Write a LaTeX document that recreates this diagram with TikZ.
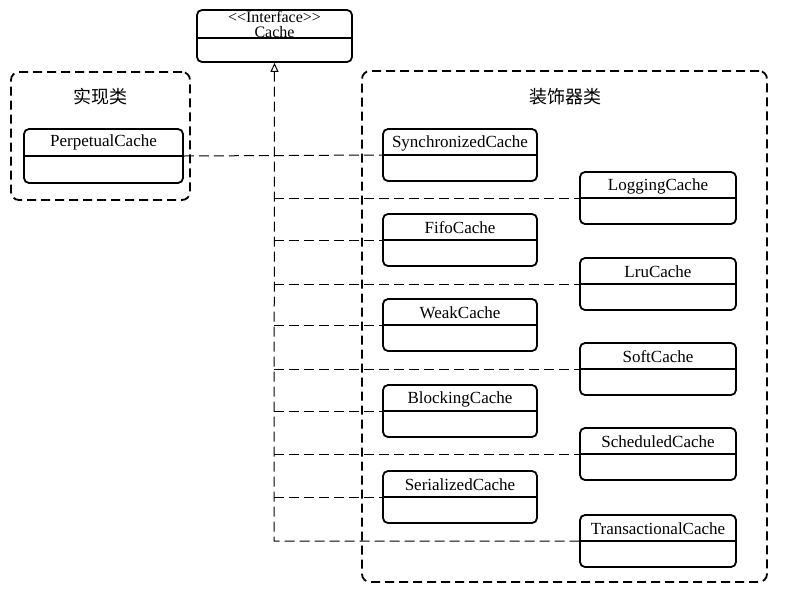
\documentclass[tikz,border=0pt]{standalone}
\usepackage{fontspec}
\setmainfont{Liberation Serif}
\newfontfamily\cjk{Noto Sans CJK SC}
\usetikzlibrary{arrows.meta,calc}
\begin{document}
\begin{tikzpicture}[x=1pt,y=-1pt,
  clsbox/.style={draw,line width=1.8pt,rounded corners=5pt,minimum height=52pt,inner sep=0pt},
  lcol/.style={clsbox,minimum width=154pt},
  rcol/.style={clsbox,minimum width=156pt},
  grp/.style={draw,line width=1.8pt,rounded corners=8pt,dash pattern=on 9pt off 5pt,inner sep=0pt},
  conn/.style={line width=1pt,dash pattern=on 10pt off 5pt},
  lbl/.style={font=\fontsize{17}{17}\selectfont,inner sep=0pt},
  ttl/.style={font=\cjk\fontsize{18}{18}\selectfont,inner sep=0pt}]
\path[fill=white,use as bounding box] (0,0) rectangle (785,590);
% groups
\node[grp,minimum width=179pt,minimum height=128pt] (gimpl) at (100.5,136) {};
\node[ttl] (timpl) at (100,97) {实现类};
\node[grp,minimum width=405pt,minimum height=511pt] (gdec) at (564.5,326.5) {};
\node[ttl] (tdec) at (565,97) {装饰器类};
% interface
\node[clsbox,minimum width=155pt,minimum height=52pt] (iface) at (274.5,36) {};
\draw[line width=1.8pt] ($(iface.west)+(0,2)$) -- ($(iface.east)+(0,2)$);
\node[lbl,align=center,font=\fontsize{16}{15}\selectfont] (ifl) at (274.5,24) {{<}{<}Interface{>}{>}\\Cache};
% impl
\node[clsbox,minimum width=159pt,minimum height=54pt] (perp) at (103.5,156) {};
\draw[line width=1.8pt] (perp.west) -- (perp.east);
\node[lbl] (perpl) at (103.5,142) {PerpetualCache};
% left column
\foreach \n/\t/\y in {sync/SynchronizedCache/155, fifo/FifoCache/240, weak/WeakCache/325, block/BlockingCache/411, ser/SerializedCache/497}{
  \node[lcol] (\n) at (460,\y) {};
  \draw[line width=1.8pt] (\n.west) -- (\n.east);
  \node[lbl] (\n l) at (460,\y-12) {\t};
}
% right column
\foreach \n/\t/\y in {log/LoggingCache/198, lru/LruCache/284, soft/SoftCache/369, sched/ScheduledCache/454, trans/TransactionalCache/541}{
  \node[rcol] (\n) at (658,\y) {};
  \draw[line width=1.8pt] (\n.west) -- (\n.east);
  \node[lbl] (\n l) at (658,\y-12) {\t};
}
% connectors
\coordinate (corner) at (274,541);
\draw[conn] (perp.east) -- (sync.west);
\draw[conn,{Triangle[open,length=9pt,width=8pt,line width=1pt]}-] (iface.south) -- (corner) -- (trans.west);
\foreach \n in {log,fifo,lru,weak,soft,block,sched,ser}{
  \draw[conn] (corner |- \n.west) -- (\n.west);
}
\end{tikzpicture}
\end{document}
